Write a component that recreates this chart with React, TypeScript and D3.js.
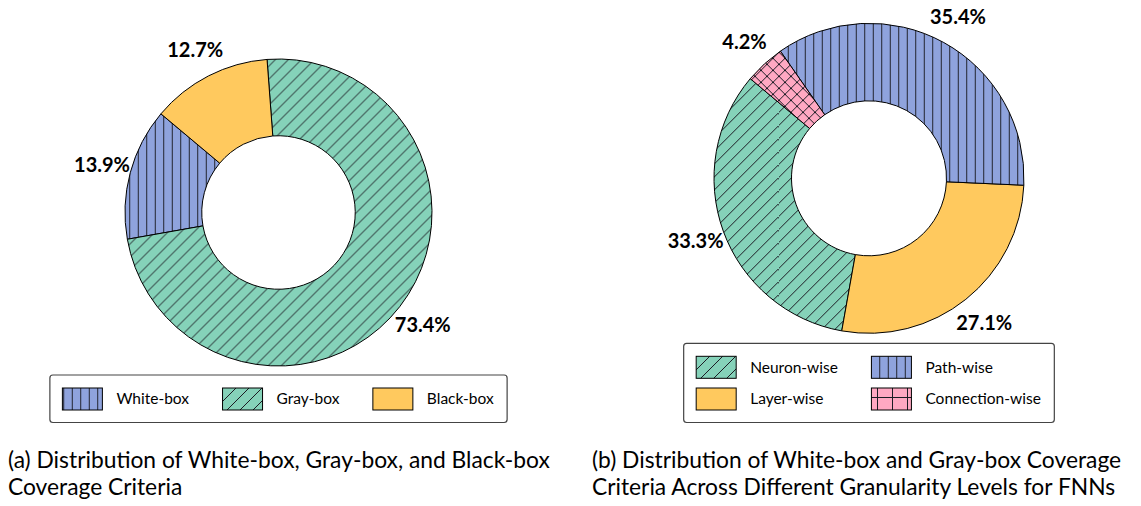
import { useEffect, useRef } from "react"
import * as d3 from "d3"

// Data
const leftCategories = ["White-box", "Gray-box", "Black-box"]
const leftValues = [13.9, 73.4, 12.7]
const rightCategories = ["Neuron-wise", "Layer-wise", "Path-wise", "Connection-wise"]
const rightValues = [33.3, 27.1, 35.4, 4.2]
const captionA = ["(a) Distribution of White-box, Gray-box, and Black-box", "Coverage Criteria"]
const captionB = [
  "(b) Distribution of White-box and Gray-box Coverage",
  "Criteria Across Different Granularity Levels for FNNs",
]

const BLUE = "#8fa3dd"
const GREEN = "#85d2b9"
const YELLOW = "#ffc95e"
const PINK = "#ffa8c2"

// fill + hatch for each category (pie hatch, legend hatch)
const catStyle: Record<string, { color: string; hatch: string; legendHatch: string }> = {
  "White-box": { color: BLUE, hatch: "vert", legendHatch: "vert" },
  "Gray-box": { color: GREEN, hatch: "diag", legendHatch: "diag" },
  "Black-box": { color: YELLOW, hatch: "none", legendHatch: "none" },
  "Neuron-wise": { color: GREEN, hatch: "diag", legendHatch: "diag" },
  "Layer-wise": { color: YELLOW, hatch: "none", legendHatch: "none" },
  "Path-wise": { color: BLUE, hatch: "vert", legendHatch: "vert" },
  "Connection-wise": { color: PINK, hatch: "cross", legendHatch: "plus" },
}

const FONT = "Lato, 'Open Sans', sans-serif"
const HATCH_STROKE = "#1c1c24"

function patternId(color: string, kind: string) {
  return `p-${kind}-${color.slice(1)}`
}

function addPattern(defs: d3.Selection<SVGDefsElement, unknown, null, undefined>, color: string, kind: string) {
  const id = patternId(color, kind)
  if (!defs.select(`#${id}`).empty()) return
  const s = kind === "vert" ? 8.5 : kind === "diag" ? 13 : kind === "cross" ? 12 : 15
  const p = defs
    .append("pattern")
    .attr("id", id)
    .attr("patternUnits", "userSpaceOnUse")
    .attr("width", s)
    .attr("height", s)
  p.append("rect").attr("width", s).attr("height", s).attr("fill", color)
  let d = ""
  if (kind === "vert") d = `M${s / 2},0 V${s}`
  if (kind === "diag") d = `M-1,1 l2,-2 M0,${s} l${s},-${s} M${s - 1},${s + 1} l2,-2`
  if (kind === "cross")
    d = `M-1,1 l2,-2 M0,${s} l${s},-${s} M${s - 1},${s + 1} l2,-2 M-1,${s - 1} l2,2 M0,0 l${s},${s} M${s - 1},-1 l2,2`
  if (kind === "plus") d = `M${s / 2},0 V${s} M0,${s / 2} H${s}`
  p.append("path").attr("d", d).attr("stroke", HATCH_STROKE).attr("stroke-width", 1).attr("fill", "none")
}

function fillFor(cat: string, legend: boolean) {
  const st = catStyle[cat]
  const kind = legend ? st.legendHatch : st.hatch
  return kind === "none" ? st.color : `url(#${patternId(st.color, kind)})`
}

interface DonutOpts {
  cats: string[]
  vals: number[]
  cx: number
  cy: number
  r: number
  ncol: number
  legendTop: number
}

function drawDonut(
  svg: d3.Selection<SVGSVGElement, unknown, null, undefined>,
  defs: d3.Selection<SVGDefsElement, unknown, null, undefined>,
  o: DonutOpts,
) {
  o.cats.forEach((c) => {
    const st = catStyle[c]
    if (st.hatch !== "none") addPattern(defs, st.color, st.hatch)
    if (st.legendHatch !== "none") addPattern(defs, st.color, st.legendHatch)
  })

  const start = (-50 * Math.PI) / 180 // counter-clockwise from upper left
  const pie = d3
    .pie<number>()
    .sort(null)
    .value((d) => d)
    .startAngle(start)
    .endAngle(start - 2 * Math.PI)
  const arcs = pie(o.vals)
  const arc = d3
    .arc<d3.PieArcDatum<number>>()
    .innerRadius(o.r * 0.5)
    .outerRadius(o.r)
  const labelArc = d3
    .arc<d3.PieArcDatum<number>>()
    .innerRadius(o.r * 1.19)
    .outerRadius(o.r * 1.19)

  const g = svg.append("g").attr("transform", `translate(${o.cx},${o.cy})`)
  g.selectAll("path.wedge")
    .data(arcs)
    .enter()
    .append("path")
    .attr("class", "wedge")
    .attr("d", arc)
    .attr("fill", (d, i) => fillFor(o.cats[i], false))
    .attr("stroke", "#000")
    .attr("stroke-width", 1)
    .attr("stroke-linejoin", "round")

  g.selectAll("text.pct")
    .data(arcs)
    .enter()
    .append("text")
    .attr("class", "pct")
    .attr("transform", (d) => `translate(${labelArc.centroid(d)})`)
    .attr("text-anchor", "middle")
    .attr("dy", "0.36em")
    .style("font-family", FONT)
    .style("font-weight", 700)
    .style("font-size", "20px")
    .attr("fill", "#000")
    .text((d) => `${d.data.toFixed(1)}%`)

  // Legend (items filled column by column)
  const padL = 12.5,
    padR = 13.5,
    padT = 13,
    padB = 12.5
  const pw = 40,
    ph = 22,
    gap = 14,
    colSpace = 33.5,
    rowH = 31.7
  const nrow = Math.ceil(o.cats.length / o.ncol)
  const lg = svg.append("g")
  const box = lg.append("rect")
  const texts = o.cats.map((c) =>
    lg
      .append("text")
      .style("font-family", FONT)
      .style("font-size", "15.5px")
      .attr("fill", "#000")
      .attr("dy", "0.35em")
      .text(c),
  )
  const widths = texts.map((t) => (t.node() as SVGTextElement).getComputedTextLength())
  const colW: number[] = []
  for (let c = 0; c < o.ncol; c++) {
    let m = 0
    for (let r = 0; r < nrow; r++) {
      const i = c * nrow + r
      if (i < o.cats.length) m = Math.max(m, widths[i])
    }
    colW.push(pw + gap + m)
  }
  const totalW = padL + padR + d3.sum(colW) + colSpace * (o.ncol - 1)
  const totalH = padT + padB + nrow * ph + (nrow - 1) * (rowH - ph)
  const x0 = o.cx - totalW / 2
  const y0 = o.legendTop
  box
    .attr("x", x0)
    .attr("y", y0)
    .attr("width", totalW)
    .attr("height", totalH)
    .attr("rx", 3)
    .attr("fill", "#fff")
    .attr("stroke", "#444")
    .attr("stroke-width", 1.2)
  o.cats.forEach((cat, i) => {
    const c = Math.floor(i / nrow)
    const r = i % nrow
    const x = x0 + padL + d3.sum(colW.slice(0, c)) + colSpace * c
    const y = y0 + padT + r * rowH
    lg.append("rect")
      .attr("x", x)
      .attr("y", y)
      .attr("width", pw)
      .attr("height", ph)
      .attr("fill", fillFor(cat, true))
      .attr("stroke", "#000")
      .attr("stroke-width", 1)
    texts[i].attr("x", x + pw + gap).attr("y", y + ph / 2)
    texts[i].raise()
  })
}

export default function App() {
  const svgRef = useRef<SVGSVGElement>(null)

  useEffect(() => {
    const svg = d3.select(svgRef.current as SVGSVGElement)
    svg.selectAll("*").remove()
    const defs = svg.append("defs")

    drawDonut(svg, defs, {
      cats: leftCategories,
      vals: leftValues,
      cx: 278.5,
      cy: 212.5,
      r: 153.5,
      ncol: 3,
      legendTop: 375,
    })
    drawDonut(svg, defs, {
      cats: rightCategories,
      vals: rightValues,
      cx: 869,
      cy: 178.3,
      r: 155,
      ncol: 2,
      legendTop: 343.3,
    })

    const caps = [
      { lines: captionA, x: 8 },
      { lines: captionB, x: 592 },
    ]
    caps.forEach((cap) => {
      cap.lines.forEach((line, i) => {
        svg
          .append("text")
          .attr("x", cap.x)
          .attr("y", 468 + i * 27)
          .style("font-family", FONT)
          .style("font-size", "22.8px")
          .attr("fill", "#000")
          .text(line)
      })
    })
  }, [])

  return (
    <svg
      ref={svgRef}
      width={1141}
      height={506}
      style={{ position: "absolute", left: 0, top: 0, background: "#fff" }}
    />
  )
}
